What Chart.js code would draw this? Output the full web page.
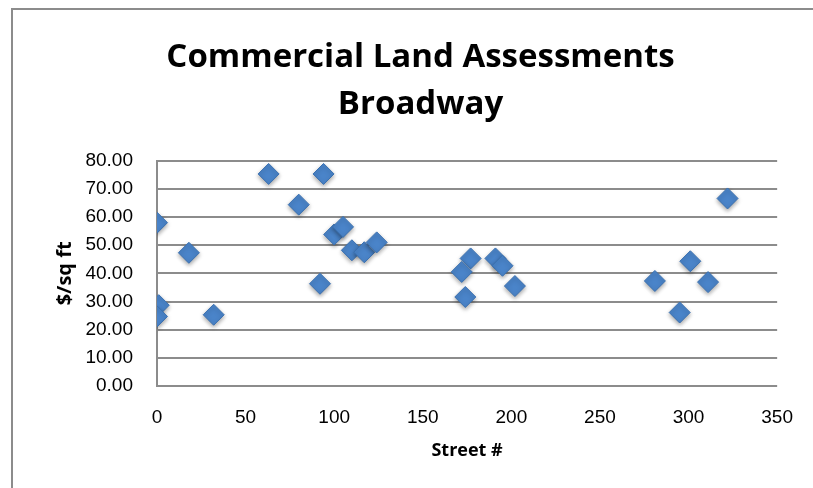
<!DOCTYPE html>
<html>
<head>
<meta charset="utf-8">
<script src="https://cdn.jsdelivr.net/npm/chart.js@4"></script>
<style>
  body { margin: 0; background: #fff; }
  #wrap { width: 813px; height: 488px; }
</style>
</head>
<body>
<div id="wrap"><canvas id="graph"></canvas></div>
<script>
var streetNums = [0, 1, 0, 18, 32, 63, 80, 94, 92, 100, 105, 110, 117, 124, 177, 172, 174, 191, 195, 202, 281, 295, 301, 311, 322];
var pricePerSqFt = [58, 28.7, 24.7, 47.3, 25.3, 75.3, 64.4, 75.3, 36.3, 53.8, 56.5, 48.2, 47.5, 51, 45.3, 40.5, 31.6, 45.3, 42.7, 35.5, 37.3, 26.1, 44.3, 36.9, 66.6];
var titleLines = ['Commercial Land Assessments', 'Broadway'];
var xTicks = [0, 50, 100, 150, 200, 250, 300, 350];

var points = [];
for (var i = 0; i < streetNums.length; i++) {
  points.push({ x: streetNums[i], y: pricePerSqFt[i] });
}

// frame round the chart, like the spreadsheet chart box
const framePlugin = {
  id: 'frame',
  beforeDraw: function (chart) {
    var ctx = chart.ctx;
    ctx.save();
    ctx.strokeStyle = '#8c8c8c';
    ctx.lineWidth = 2;
    ctx.beginPath();
    ctx.moveTo(12, 490);
    ctx.lineTo(12, 9);
    ctx.lineTo(815, 9);
    ctx.stroke();
    ctx.restore();
  }
};

// soft drop shadow under the diamonds
const shadowPlugin = {
  id: 'shadow',
  beforeDatasetsDraw: function (chart) {
    var ctx = chart.ctx;
    ctx.save();
    ctx.shadowColor = 'rgba(0,0,0,0.35)';
    ctx.shadowBlur = 4;
    ctx.shadowOffsetY = 2;
  },
  afterDatasetsDraw: function (chart) {
    chart.ctx.restore();
  }
};

const config = {
  type: 'scatter',
  data: {
    datasets: [{
      label: '$/sq ft',
      data: points,
      pointStyle: 'rectRot',
      pointRadius: 10.5,
      pointHoverRadius: 10.5,
      backgroundColor: '#4a84c9',
      borderColor: '#3a70b0',
      borderWidth: 1
    }]
  },
  options: {
    responsive: false,
    animation: false,
    layout: { padding: { left: 59, right: 31, top: 0, bottom: 0 } },
    plugins: {
      legend: { display: false },
      tooltip: { enabled: false },
      title: {
        display: true,
        text: titleLines,
        color: '#000',
        font: { family: 'Open Sans', size: 33, weight: 'bold', lineHeight: 1.42 },
        padding: { top: 34, bottom: 33 }
      }
    },
    scales: {
      x: {
        type: 'linear',
        min: 0,
        max: 350,
        afterFit: function (scale) { scale.height = 102; },
        afterBuildTicks: function (scale) {
          scale.ticks = xTicks.map(function (v) { return { value: v }; });
        },
        grid: { display: false, drawTicks: false },
        border: { display: false },
        ticks: {
          color: '#000',
          padding: 20,
          font: { family: 'Liberation Sans', size: 19 }
        },
        title: {
          display: true,
          text: 'Street #',
          color: '#000',
          font: { family: 'Open Sans', size: 18, weight: 'bold' },
          padding: { top: 0, bottom: 26 }
        }
      },
      y: {
        min: 0,
        max: 80,
        afterFit: function (scale) { scale.width = 98; },
        grid: { color: '#8c8c8c', lineWidth: 2, drawTicks: false },
        border: { display: true, color: '#8c8c8c', width: 2 },
        ticks: {
          color: '#000',
          stepSize: 10,
          padding: 24,
          font: { family: 'Liberation Sans', size: 19 },
          callback: function (v) { return v.toFixed(2); }
        },
        title: {
          display: true,
          text: '$/sq ft',
          color: '#000',
          font: { family: 'Open Sans', size: 20, weight: 'bold' },
          padding: { top: -6, bottom: 0 }
        }
      }
    }
  },
  plugins: [framePlugin, shadowPlugin]
};

var canvas = document.getElementById('graph');
canvas.width = 813;
canvas.height = 488;
var myChart = new Chart(canvas, config);
</script>
</body>
</html>
